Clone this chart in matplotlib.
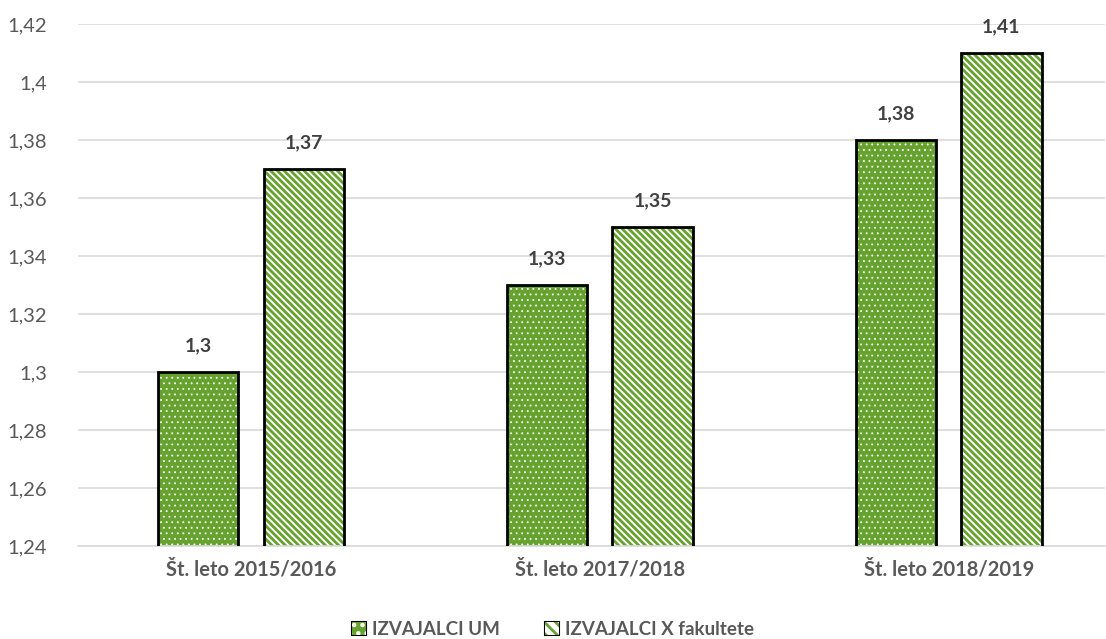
import numpy as np
import matplotlib.pyplot as plt
from matplotlib.patches import Patch
from matplotlib.ticker import FuncFormatter

plt.rcParams['font.family'] = ['Lato', 'DejaVu Sans']

# Data
years = ['Št. leto 2015/2016', 'Št. leto 2017/2018', 'Št. leto 2018/2019']
izvajalci_um = [1.30, 1.33, 1.38]
izvajalci_fak = [1.37, 1.35, 1.41]
series_names = ['IZVAJALCI UM', 'IZVAJALCI X fakultete']

green = '#66A22E'
dots = '...'
stripes = '\\' * 5
x = np.arange(len(years))
w = 0.23
off = 0.151

fig = plt.figure(figsize=(11.06, 6.39), dpi=100)
ax = fig.add_axes([0.0705, 0.1455, 0.929, 0.8169])

# UM bars: green fill with small white dots
plt.rcParams['hatch.linewidth'] = 0.6
ax.bar(x - off, izvajalci_um, w, color=green, edgecolor='white',
       hatch=dots, linewidth=0, zorder=2)
# faculty bars: green diagonal stripes on white
plt.rcParams['hatch.linewidth'] = 2.0
ax.bar(x + off, izvajalci_fak, w, color='white', edgecolor=green,
       hatch=stripes, linewidth=0, zorder=2)
# black outlines
ax.bar(x - off, izvajalci_um, w, fill=False, edgecolor='black', linewidth=2, zorder=3)
ax.bar(x + off, izvajalci_fak, w, fill=False, edgecolor='black', linewidth=2, zorder=3)

fmt = lambda v: ('%g' % v).replace('.', ',')
for xi, v in zip(np.r_[x - off, x + off], izvajalci_um + izvajalci_fak):
    ax.text(xi, v + 0.006, fmt(v), ha='center', va='bottom', fontsize=14,
            fontweight='bold', color='#404040')

ax.set_ylim(1.24, 1.42)
ax.set_yticks(np.arange(1.24, 1.4201, 0.02))
ax.yaxis.set_major_formatter(FuncFormatter(lambda v, p: fmt(round(v, 2))))
ax.set_xlim(-0.496, 2.449)
ax.set_xticks(x)
ax.set_xticklabels(years, fontsize=14.5, fontweight='bold', color='#595959')
ax.tick_params(axis='y', labelsize=14.5, labelcolor='#595959', length=0, pad=22)
ax.tick_params(axis='x', length=0, pad=10)
ax.grid(axis='y', color='#D9D9D9', linewidth=1.2, zorder=0)
ax.set_axisbelow(True)
for s in ['top', 'right', 'left']:
    ax.spines[s].set_visible(False)
ax.spines['bottom'].set_color('#D9D9D9')
ax.spines['bottom'].set_linewidth(1.2)

plt.rcParams['hatch.linewidth'] = 0.6
h1 = Patch(facecolor=green, edgecolor='white', hatch='..', label=series_names[0])
plt.rcParams['hatch.linewidth'] = 2.0
h2 = Patch(facecolor='white', edgecolor=green, hatch='\\\\\\', label=series_names[1])
leg = fig.legend(handles=[h1, h2], loc='lower center', bbox_to_anchor=(0.5, -0.025),
                 ncol=2, frameon=False, handlelength=0.75, handleheight=0.75,
                 handletextpad=0.3, columnspacing=2.4,
                 prop={'size': 13.5, 'weight': 'bold'})
for t in leg.get_texts():
    t.set_color('#595959')
for p in leg.get_patches():
    p.set_linewidth(0)

# black frame round each legend key
fig.canvas.draw()
for p in leg.get_patches():
    bb = p.get_window_extent()
    fig.add_artist(plt.Rectangle((bb.x0, bb.y0), bb.width, bb.height, fill=False,
                                 edgecolor='black', linewidth=1.5, transform=None))

fig.savefig('out.png', dpi=100)
